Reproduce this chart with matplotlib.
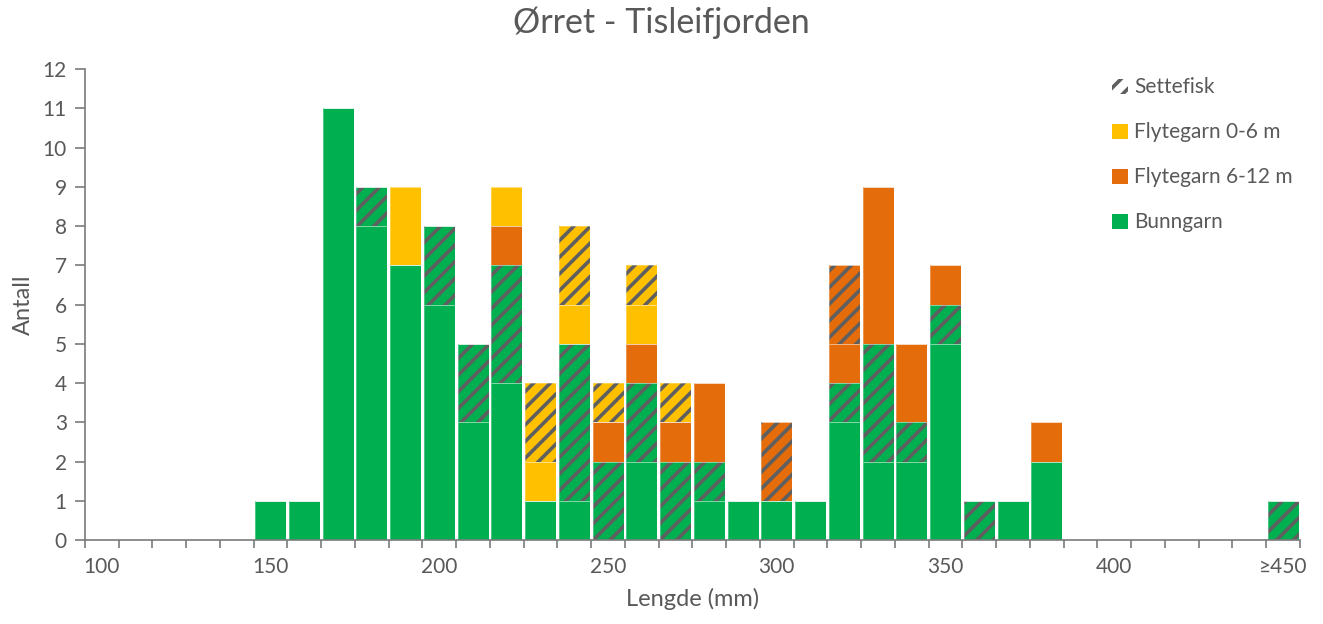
import numpy as np
import matplotlib
matplotlib.use("Agg")
import matplotlib.pyplot as plt
from matplotlib.patches import Patch

plt.rcParams["font.family"] = ["Lato", "DejaVu Sans"]
plt.rcParams["hatch.linewidth"] = 2.6

# length classes, 10 mm wide, last one is >=450
lengths = list(range(100, 460, 10))
tick_labels = ["100", "150", "200", "250", "300", "350", "400", "\u2265450"]

# counts per class (100 ... 450)
bunngarn = [0, 0, 0, 0, 0, 1, 1, 11, 8, 7, 6, 3, 4, 1, 1, 0, 2, 0, 1, 1,
            1, 1, 3, 2, 2, 5, 0, 1, 2, 0, 0, 0, 0, 0, 0, 0]
bunngarn_sf = [0, 0, 0, 0, 0, 0, 0, 0, 1, 0, 2, 2, 3, 0, 4, 2, 2, 2, 1, 0,
               0, 0, 1, 3, 1, 1, 1, 0, 0, 0, 0, 0, 0, 0, 0, 1]
flyt612 = [0, 0, 0, 0, 0, 0, 0, 0, 0, 0, 0, 0, 1, 0, 0, 1, 1, 1, 2, 0,
           0, 0, 1, 4, 2, 1, 0, 0, 1, 0, 0, 0, 0, 0, 0, 0]
flyt612_sf = [0, 0, 0, 0, 0, 0, 0, 0, 0, 0, 0, 0, 0, 0, 0, 0, 0, 0, 0, 0,
              2, 0, 2, 0, 0, 0, 0, 0, 0, 0, 0, 0, 0, 0, 0, 0]
flyt06 = [0, 0, 0, 0, 0, 0, 0, 0, 0, 2, 0, 0, 1, 1, 1, 0, 1, 0, 0, 0,
          0, 0, 0, 0, 0, 0, 0, 0, 0, 0, 0, 0, 0, 0, 0, 0]
flyt06_sf = [0, 0, 0, 0, 0, 0, 0, 0, 0, 0, 0, 0, 0, 2, 2, 1, 1, 1, 0, 0,
             0, 0, 0, 0, 0, 0, 0, 0, 0, 0, 0, 0, 0, 0, 0, 0]

GREEN = "#00B050"
YELLOW = "#FFC000"
ORANGE = "#E46C0A"
HATCHC = "#5f5f5f"
TXT = "#595959"
AXC = "#7a7a7a"

series = [
    (bunngarn, GREEN, False),
    (bunngarn_sf, GREEN, True),
    (flyt612, ORANGE, False),
    (flyt612_sf, ORANGE, True),
    (flyt06, YELLOW, False),
    (flyt06_sf, YELLOW, True),
]

fig = plt.figure(figsize=(13.23, 6.24), dpi=100)
ax = fig.add_axes([0.0642, 0.1346, 0.9184, 0.7548])

x = np.arange(len(lengths))
bottom = np.zeros(len(lengths))
w = 0.92
for vals, col, sf in series:
    vals = np.array(vals, dtype=float)
    if sf:
        ax.bar(x, vals, w, bottom=bottom, facecolor=col, edgecolor=HATCHC,
               hatch="//", linewidth=0)
    else:
        ax.bar(x, vals, w, bottom=bottom, color=col, linewidth=0)
    # faint segment borders
    ax.bar(x, vals, w, bottom=bottom, fill=False, edgecolor="white",
           linewidth=0.6, alpha=0.35)
    bottom += vals

ax.set_xlim(-0.5, len(lengths) - 0.5)
ax.set_ylim(0, 12)
ax.set_yticks(range(0, 13))

ax.set_xticks(x[::5])
ax.set_xticklabels(tick_labels)
ax.set_xticks(np.arange(-0.5, len(lengths)), minor=True)
ax.tick_params(axis="x", which="major", length=0, pad=12, labelsize=15, labelcolor=TXT)
ax.tick_params(axis="x", which="minor", length=6, width=1.2, color=AXC)
ax.tick_params(axis="y", length=7, width=1.2, color=AXC, labelsize=15, labelcolor=TXT, pad=6)

for s in ["top", "right"]:
    ax.spines[s].set_visible(False)
for s in ["left", "bottom"]:
    ax.spines[s].set_color(AXC)
    ax.spines[s].set_linewidth(1.2)

ax.set_xlabel("Lengde (mm)", fontsize=17, color=TXT, labelpad=8)
ax.set_ylabel("Antall", fontsize=17, color=TXT, labelpad=6)
fig.suptitle("\u00d8rret - Tisleifjorden", fontsize=24.5, color=TXT, y=0.99)

handles = [
    Patch(facecolor="white", edgecolor=HATCHC, hatch="//", linewidth=0, label="Settefisk"),
    Patch(facecolor=YELLOW, label="Flytegarn 0-6 m"),
    Patch(facecolor=ORANGE, label="Flytegarn 6-12 m"),
    Patch(facecolor=GREEN, label="Bunngarn"),
]
leg = ax.legend(handles=handles, loc="upper left", bbox_to_anchor=(0.83, 1.022),
                frameon=False, fontsize=15, labelcolor=TXT, handlelength=0.75,
                handleheight=0.75, handletextpad=0.3, labelspacing=1.2)

fig.savefig("out.png", dpi=100)
